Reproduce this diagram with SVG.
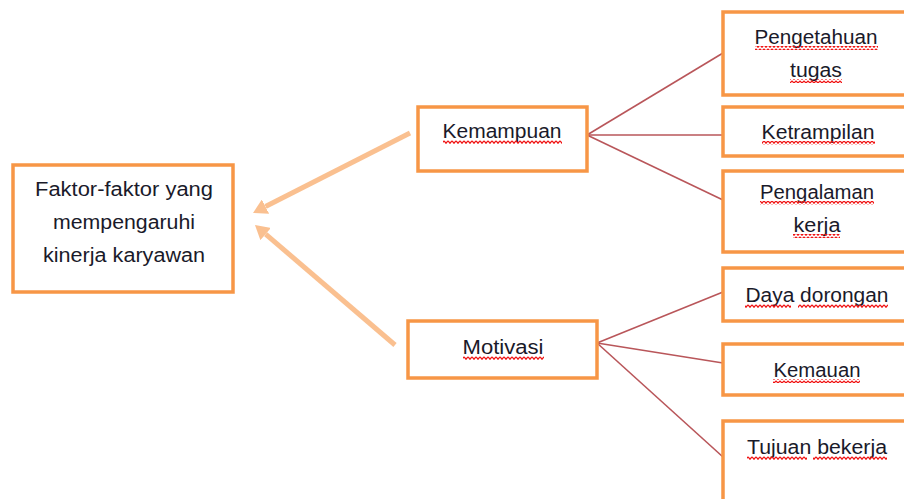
<svg xmlns="http://www.w3.org/2000/svg" width="904" height="499" viewBox="0 0 904 499">
<style>
.box{fill:#fff;stroke:#F79646;stroke-width:3.5}
.t{font-family:"Liberation Sans",Arial,sans-serif;font-size:20px;fill:#1a1a2a;text-anchor:middle}
.link{stroke:#B9565A;stroke-width:1.6;fill:none}
.arr{stroke:#FAC090;stroke-width:5;fill:none}
.sq{fill:url(#wave)}
</style>
<defs>
<marker id="head" viewBox="0 0 14 16" markerUnits="userSpaceOnUse" markerWidth="14" markerHeight="16" refX="0" refY="8" orient="auto">
<path d="M0,0 L14,8 L0,16 z" fill="#FAC090"/>
</marker>
<pattern id="wave" patternUnits="userSpaceOnUse" width="4" height="4">
<path d="M0,0.8 L2,3.2 L4,0.8" fill="none" stroke="#F01010" stroke-width="1.3"/>
</pattern>
</defs>

<g id="connectors">
<line class="arr" x1="410" y1="133" x2="265.5" y2="206.6" marker-end="url(#head)"/>
<line class="arr" x1="395" y1="345" x2="265.6" y2="234.1" marker-end="url(#head)"/>
<line class="link" x1="587" y1="135" x2="723" y2="53"/>
<line class="link" x1="587" y1="135" x2="723" y2="135"/>
<line class="link" x1="587" y1="135" x2="723" y2="200"/>
<line class="link" x1="597" y1="343" x2="723" y2="292"/>
<line class="link" x1="597" y1="343" x2="723" y2="363"/>
<line class="link" x1="597" y1="343" x2="723" y2="457"/>
</g>

<g id="node-faktor">
<rect class="box" x="13" y="165" width="220" height="127"/>
<text class="t" x="124" y="196" textLength="178" lengthAdjust="spacingAndGlyphs">Faktor-faktor yang</text>
<text class="t" x="124" y="229" textLength="142" lengthAdjust="spacingAndGlyphs">mempengaruhi</text>
<text class="t" x="124" y="262" textLength="162" lengthAdjust="spacingAndGlyphs">kinerja karyawan</text>
</g>

<g id="node-kemampuan">
<rect class="box" x="418" y="107" width="169" height="64"/>
<text class="t" x="502" y="138" textLength="119" lengthAdjust="spacingAndGlyphs">Kemampuan</text>
<rect class="sq" x="443" y="140" width="119" height="4"/>
</g>

<g id="node-motivasi">
<rect class="box" x="408" y="321" width="189" height="57"/>
<text class="t" x="503" y="354" textLength="81" lengthAdjust="spacingAndGlyphs">Motivasi</text>
<rect class="sq" x="463" y="356" width="81" height="4"/>
</g>

<g id="node-pengetahuan">
<rect class="box" x="723" y="12" width="200" height="83"/>
<text class="t" x="816" y="44" textLength="123" lengthAdjust="spacingAndGlyphs">Pengetahuan</text>
<rect class="sq" x="755" y="46" width="123" height="4"/>
<text class="t" x="816" y="77" textLength="52" lengthAdjust="spacingAndGlyphs">tugas</text>
<rect class="sq" x="790" y="79" width="52" height="4"/>
</g>

<g id="node-ketrampilan">
<rect class="box" x="723" y="107" width="200" height="49"/>
<text class="t" x="818" y="139" textLength="113" lengthAdjust="spacingAndGlyphs">Ketrampilan</text>
<rect class="sq" x="762" y="141" width="113" height="4"/>
</g>

<g id="node-pengalaman">
<rect class="box" x="723" y="171" width="200" height="81"/>
<text class="t" x="817" y="199" textLength="114" lengthAdjust="spacingAndGlyphs">Pengalaman</text>
<rect class="sq" x="760" y="201" width="114" height="4"/>
<text class="t" x="817" y="232" textLength="47" lengthAdjust="spacingAndGlyphs">kerja</text>
<rect class="sq" x="793" y="234" width="47" height="4"/>
</g>

<g id="node-daya">
<rect class="box" x="723" y="268" width="200" height="53"/>
<text class="t" x="817" y="302" textLength="143" lengthAdjust="spacingAndGlyphs">Daya dorongan</text>
<rect class="sq" x="745" y="304" width="46" height="4"/>
<rect class="sq" x="798" y="304" width="90" height="4"/>
</g>

<g id="node-kemauan">
<rect class="box" x="723" y="344" width="200" height="51"/>
<text class="t" x="817" y="377" textLength="87" lengthAdjust="spacingAndGlyphs">Kemauan</text>
<rect class="sq" x="773" y="379" width="87" height="4"/>
</g>

<g id="node-tujuan">
<rect class="box" x="723" y="421" width="200" height="100"/>
<text class="t" x="817" y="454" textLength="140" lengthAdjust="spacingAndGlyphs">Tujuan bekerja</text>
<rect class="sq" x="747" y="456" width="60" height="4"/>
<rect class="sq" x="813" y="456" width="74" height="4"/>
</g>
</svg>
